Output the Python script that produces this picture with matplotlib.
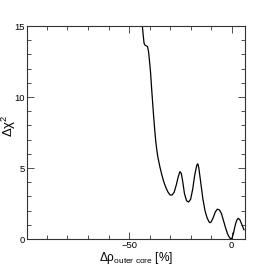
import matplotlib
matplotlib.use("Agg")
import matplotlib.pyplot as plt
from matplotlib.ticker import MultipleLocator

plt.rcParams["font.family"] = ["Liberation Sans", "DejaVu Sans"]
plt.rcParams["mathtext.fontset"] = "custom"
plt.rcParams["mathtext.rm"] = "Liberation Sans"
plt.rcParams["mathtext.it"] = "Liberation Sans"
plt.rcParams["mathtext.bf"] = "Liberation Sans"
plt.rcParams["mathtext.sf"] = "Liberation Sans"

# delta chi^2 scan vs. outer core density shift
delta_rho = [-43.9, -43.2, -42.7, -42.2, -41.5, -41.0, -40.5, -40.0, -39.5, -39.0,
             -38.5, -38.0, -37.5, -37.0, -36.5, -36.0, -35.0, -34.0, -33.0, -32.0,
             -31.0, -30.0, -29.0, -28.0, -27.0, -26.0, -25.2, -24.5, -23.8, -23.0,
             -22.0, -21.0, -20.0, -19.0, -18.0, -17.0, -16.5, -16.0, -15.0, -14.0,
             -13.0, -12.0, -11.0, -10.5, -10.0, -9.0, -8.0, -7.0, -6.0, -5.0,
             -4.0, -3.0, -2.0, -1.0, 0.0, 0.8, 1.6, 2.4, 3.2, 4.0, 5.0, 6.0]
delta_chi2 = [15.6, 14.5, 13.8, 13.65, 13.6, 13.55, 13.2, 12.5, 11.7, 10.6,
              9.6, 8.6, 7.7, 6.9, 6.3, 5.8, 5.1, 4.5, 4.0, 3.6,
              3.3, 3.1, 3.1, 3.3, 3.8, 4.4, 4.75, 4.6, 4.0, 3.2,
              2.7, 2.6, 2.8, 3.5, 4.5, 5.2, 5.3, 5.0, 3.9, 2.8,
              2.0, 1.5, 1.2, 1.15, 1.2, 1.5, 1.9, 2.1, 2.05, 1.8,
              1.3, 0.8, 0.35, 0.08, 0.0, 0.35, 0.9, 1.3, 1.46, 1.35, 1.0, 0.65]

fig = plt.figure(figsize=(2.73, 2.66), dpi=100)
ax = fig.add_axes([0.099, 0.1015, 0.80, 0.8005])

ax.plot(delta_rho, delta_chi2, color="black", lw=0.9)

ax.set_xlim(-99.7, 6.7)
ax.set_ylim(0, 15)
ax.xaxis.set_major_locator(MultipleLocator(50))
ax.xaxis.set_minor_locator(MultipleLocator(10))
ax.yaxis.set_major_locator(MultipleLocator(5))
ax.yaxis.set_minor_locator(MultipleLocator(1))

ax.tick_params(which="both", direction="in", top=True, right=True,
               colors="#333333", labelcolor="black", labelsize=6.8, pad=1.5)
ax.tick_params(which="major", length=5, width=0.6)
ax.tick_params(which="minor", length=2.8, width=0.6)
for s in ax.spines.values():
    s.set_color("#333333")
    s.set_linewidth(0.8)

ax.set_xlabel(r"Δρ$_{\mathrm{outer\ core}}$ [%]", fontsize=8.6, labelpad=0)
ax.set_ylabel(r"Δχ$^{2}$", fontsize=9.5)
ax.yaxis.set_label_coords(-0.04, 0.53)

fig.savefig("out.png", dpi=100)
